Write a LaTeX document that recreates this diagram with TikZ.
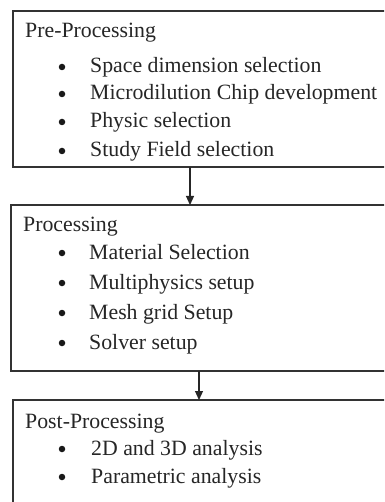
\documentclass[tikz,border=0pt]{standalone}
\usepackage{fontspec}
\setmainfont{Liberation Serif}
\usetikzlibrary{arrows.meta}
\begin{document}
\begin{tikzpicture}[x=1pt,y=-1pt,
  box/.style={draw=black!80,line width=1.2pt},
  txt/.style={anchor=base west,inner sep=0pt,font=\fontsize{21.8}{26}\selectfont,text=black!85},
  bul/.style={circle,fill=black!90,inner sep=0pt,minimum size=6.5pt},
  conn/.style={draw=black!85,line width=1.2pt,-{Triangle[length=9pt,width=8pt]}}]
\useasboundingbox (0,0) rectangle (384,502);
\clip (0,0) rectangle (384,502);
\fill[white] (0,0) rectangle (384,502);
% boxes
\draw[box] (13,11) rectangle (400,167);
\draw[box] (11,205) rectangle (400,371);
\draw[box] (13,400) rectangle (400,520);
\coordinate (b1s) at (190,167);
\coordinate (b2n) at (190,205);
\coordinate (b2s) at (199,371);
\coordinate (b3n) at (199,400);
% box 1
\node[txt] (t1) at (25,38) {Pre-Processing};
\node[bul] (d11) at (62,67) {}; \node[txt] (i11) at (90,73) {Space dimension selection};
\node[bul] (d12) at (62,94) {}; \node[txt] (i12) at (90,100) {Microdilution Chip development};
\node[bul] (d13) at (62,122) {}; \node[txt] (i13) at (90,128) {Physic selection};
\node[bul] (d14) at (62,151) {}; \node[txt] (i14) at (90,157) {Study Field selection};
% box 2
\node[txt] (t2) at (23,232) {Processing};
\node[bul] (d21) at (62,253) {}; \node[txt] (i21) at (89,259) {Material Selection};
\node[bul] (d22) at (62,283) {}; \node[txt] (i22) at (89,289) {Multiphysics setup};
\node[bul] (d23) at (62,313) {}; \node[txt] (i23) at (89,319) {Mesh grid Setup};
\node[bul] (d24) at (62,343) {}; \node[txt] (i24) at (89,349) {Solver setup};
% box 3
\node[txt] (t3) at (25,428) {Post-Processing};
\node[bul] (d31) at (62,449) {}; \node[txt] (i31) at (91,455) {2D and 3D analysis};
\node[bul] (d32) at (62,477) {}; \node[txt] (i32) at (91,483) {Parametric analysis};
% connectors
\draw[conn] (b1s) -- (b2n);
\draw[conn] (b2s) -- (b3n);
\end{tikzpicture}
\end{document}
